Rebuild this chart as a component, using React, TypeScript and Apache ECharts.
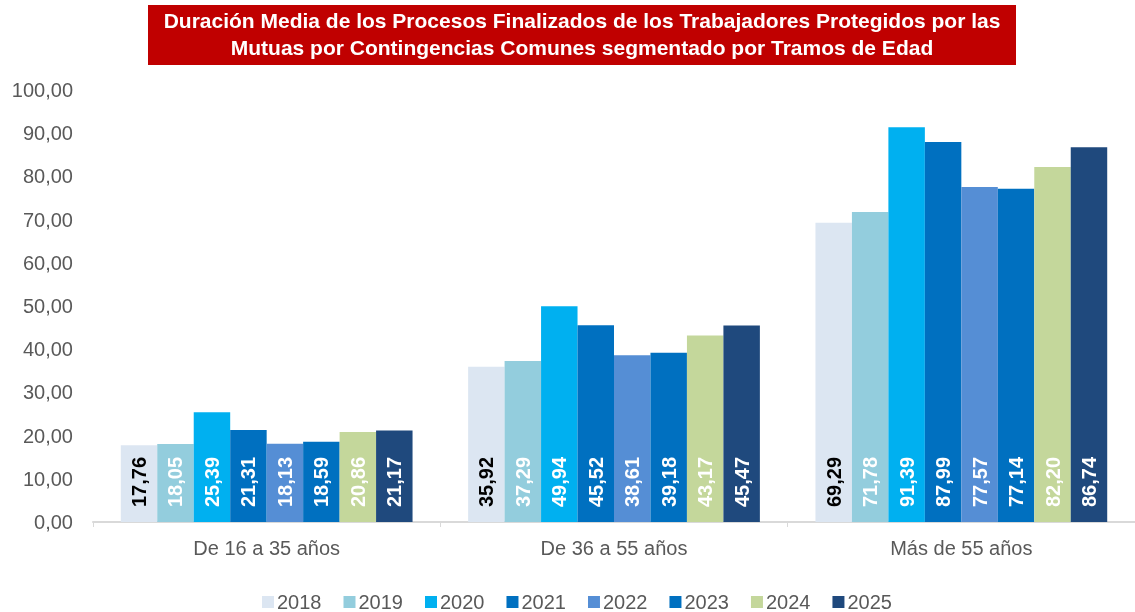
import React, { useEffect, useRef } from "react";
import * as echarts from "echarts";

const categories = ["De 16 a 35 años", "De 36 a 55 años", "Más de 55 años"];
const years = ["2018", "2019", "2020", "2021", "2022", "2023", "2024", "2025"];
const v2018 = [17.76, 35.92, 69.29];
const v2019 = [18.05, 37.29, 71.78];
const v2020 = [25.39, 49.94, 91.39];
const v2021 = [21.31, 45.52, 87.99];
const v2022 = [18.13, 38.61, 77.57];
const v2023 = [18.59, 39.18, 77.14];
const v2024 = [20.86, 43.17, 82.2];
const v2025 = [21.17, 45.47, 86.74];
const seriesValues = [v2018, v2019, v2020, v2021, v2022, v2023, v2024, v2025];
const colors = ["#dce6f2", "#93cddd", "#00b0f0", "#0070c0", "#558ed5", "#0070c0", "#c4d79b", "#1f497d"];
const labelColors = ["#000000", "#ffffff", "#ffffff", "#ffffff", "#ffffff", "#ffffff", "#ffffff", "#ffffff"];

const fmt = (v: number) => v.toFixed(2).replace(".", ",");

export default function App() {
  const ref = useRef<HTMLDivElement>(null);
  useEffect(() => {
    if (!ref.current) return;
    const chart = echarts.init(ref.current, undefined, { renderer: "svg" });
    chart.setOption({
      animation: false,
      textStyle: { fontFamily: "Arial, 'Liberation Sans', sans-serif" },
      graphic: [
        {
          type: "rect",
          x: 148,
          y: 5,
          shape: { x: 0, y: 0, width: 868, height: 60 },
          style: { fill: "#c00000" },
          z: 0,
        },
        {
          type: "text",
          x: 582,
          y: 7,
          style: {
            text: "Duración Media de los Procesos Finalizados de los Trabajadores Protegidos por las\nMutuas por Contingencias Comunes segmentado por Tramos de Edad",
            fill: "#ffffff",
            font: "bold 21px Arial, 'Liberation Sans', sans-serif",
            align: "center",
            verticalAlign: "top",
            lineHeight: 27,
          },
          z: 1,
        },
      ],
      legend: {
        left: 262,
        top: 592,
        padding: 0,
        itemWidth: 12,
        itemHeight: 12,
        itemGap: 22,
        icon: "rect",
        textStyle: { fontSize: 20, color: "#595959", padding: [0, 0, 0, -2], lineHeight: 20 },
        data: years,
      },
      grid: { left: 93, width: 1050, top: 90, bottom: 90, containLabel: false },
      xAxis: {
        type: "category",
        data: categories,
        axisLine: { lineStyle: { color: "#d9d9d9", width: 2 } },
        axisTick: { show: true, length: 5, lineStyle: { color: "#d9d9d9" } },
        axisLabel: { fontSize: 20, color: "#595959", margin: 16 },
      },
      yAxis: {
        type: "value",
        min: 0,
        max: 100,
        interval: 10,
        splitLine: { show: false },
        axisLine: { show: false },
        axisLabel: { fontSize: 20, color: "#595959", margin: 20, formatter: (v: number) => fmt(v) },
      },
      series: seriesValues.map((vals, i) => ({
        name: years[i],
        type: "bar",
        data: vals,
        barGap: "0%",
        barCategoryGap: "16%",
        itemStyle: { color: colors[i] },
        label: {
          show: true,
          position: "insideBottom",
          rotate: 90,
          align: "left",
          verticalAlign: "middle",
          distance: 15,
          fontSize: 20,
          fontWeight: "bold",
          color: labelColors[i],
          formatter: (p: any) => fmt(p.value),
        },
      })),
    });
    return () => chart.dispose();
  }, []);
  return <div ref={ref} style={{ width: 1135, height: 612, position: "fixed", left: 0, top: 0 }} />;
}
